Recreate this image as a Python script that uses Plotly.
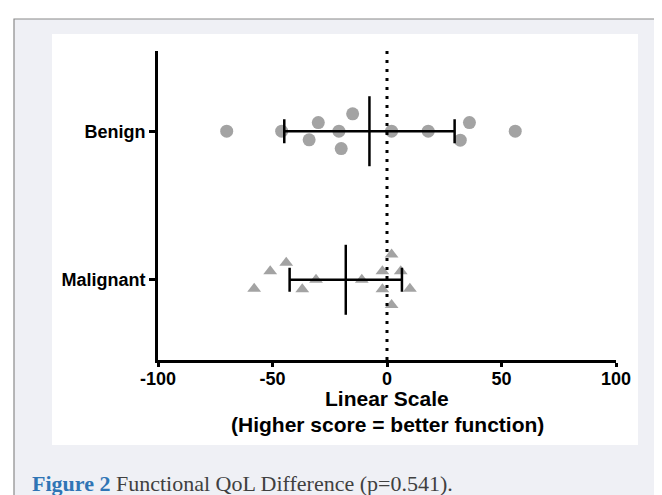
import numpy as np
import plotly.graph_objects as go

# ---- data ----
categories = ["Benign", "Malignant"]
benign_values = [-70, -46, -34, -30, -21, -20, -15, 2, 18, 32, 36, 56]
benign_jitter = [0, 0, -0.058, 0.058, 0, -0.117, 0.117, 0, 0, -0.06, 0.058, 0]
malignant_values = [-58, -51, -44, -37, -31, -11, -2, -2, 2, 2, 6, 10]
malignant_jitter = [-0.06, 0.057, 0.114, -0.063, 0, 0, 0.057, -0.063, 0.17, -0.17, 0.057, -0.06]
x_ticks = [-100, -50, 0, 50, 100]
x_title_lines = ["Linear Scale", "(Higher score = better function)"]

# ---- layout constants ----
W, H = 662, 495
ML, MR, MT, MB = 150, 54, 43, 143
PW, PH = W - ML - MR, H - MT - MB


def px_x(p):
    return (p - ML) / PW


def px_y(p):
    return (H - MB - p) / PH


cat_pos = {"Benign": 1, "Malignant": 0}
font_fam = "Liberation Sans, Arial, sans-serif"

fig = go.Figure()

groups = [
    ("Benign", benign_values, benign_jitter, "circle", 13),
    ("Malignant", malignant_values, malignant_jitter, "triangle-up", 12),
]
for name, vals, jit, sym, sz in groups:
    base = cat_pos[name]
    fig.add_trace(go.Scatter(
        x=vals, y=[base + j for j in jit], mode="markers",
        marker=dict(symbol=sym, size=sz, color="#a3a3a3", line=dict(width=0)),
        showlegend=False, hoverinfo="x",
    ))

for name, vals, jit, sym, sz in groups:
    arr = np.array(vals, dtype=float)
    m, sd = arr.mean(), arr.std(ddof=1)
    base = cat_pos[name]
    fig.add_trace(go.Scatter(
        x=[m], y=[base], mode="markers",
        marker=dict(symbol="line-ns", size=50, color="black",
                    line=dict(width=2.5, color="black")),
        error_x=dict(type="data", array=[sd], visible=True, color="black",
                     thickness=2.5, width=12),
        showlegend=False, hoverinfo="x",
    ))

shapes = [
    # outer frame panel
    dict(type="rect", xref="paper", yref="paper", x0=px_x(6), x1=px_x(680),
         y0=px_y(11), y1=px_y(520), fillcolor="#eff0f5",
         line=dict(color="#8a8a8a", width=1.2), layer="below"),
    # white figure panel
    dict(type="rect", xref="paper", yref="paper", x0=px_x(44), x1=px_x(630),
         y0=px_y(26), y1=px_y(437), fillcolor="white",
         line=dict(width=0), layer="below"),
    # dotted zero line
    dict(type="line", xref="x", yref="paper", x0=0, x1=0, y0=0, y1=1,
         line=dict(color="black", width=3, dash="3px,6px"), layer="above"),
]

# x-axis title (two lines)
for txt, ypx in zip(x_title_lines, [390, 416]):
    fig.add_annotation(
        xref="paper", yref="paper", x=0.5, y=px_y(ypx),
        xanchor="center", yanchor="middle", showarrow=False, text=txt,
        font=dict(family=font_fam, size=21, color="black", weight="bold"),
    )

fig.add_annotation(
    xref="paper", yref="paper", x=px_x(22), y=px_y(475),
    xanchor="left", yanchor="middle", showarrow=False,
    text="<b><span style='color:#2f75b5'>Figure 2</span></b> Functional QoL Difference (p=0.541).",
    font=dict(family="Liberation Serif, serif", size=22, color="#404040"),
)

fig.update_layout(
    width=W, height=H,
    margin=dict(l=ML, r=MR, t=MT, b=MB, pad=0),
    paper_bgcolor="white", plot_bgcolor="rgba(0,0,0,0)",
    shapes=shapes,
    xaxis=dict(
        range=[-100, 100], tickvals=x_ticks, ticktext=[str(v) for v in x_ticks],
        showline=True, linewidth=3, linecolor="black", showgrid=False,
        zeroline=False, ticks="outside", ticklen=4, tickwidth=3, tickcolor="black",
        ticklabelstandoff=-4,
        tickfont=dict(family=font_fam, size=18, color="black", weight="bold"),
        fixedrange=True,
    ),
    yaxis=dict(
        range=[-0.54, 1.54], tickvals=[cat_pos[c] for c in categories],
        ticktext=categories,
        showline=True, linewidth=3, linecolor="black", showgrid=False,
        zeroline=False, ticks="outside", ticklen=6, tickwidth=3, tickcolor="black",
        tickfont=dict(family=font_fam, size=18, color="black", weight="bold"),
        fixedrange=True,
    ),
)

fig.write_html("out.html")
